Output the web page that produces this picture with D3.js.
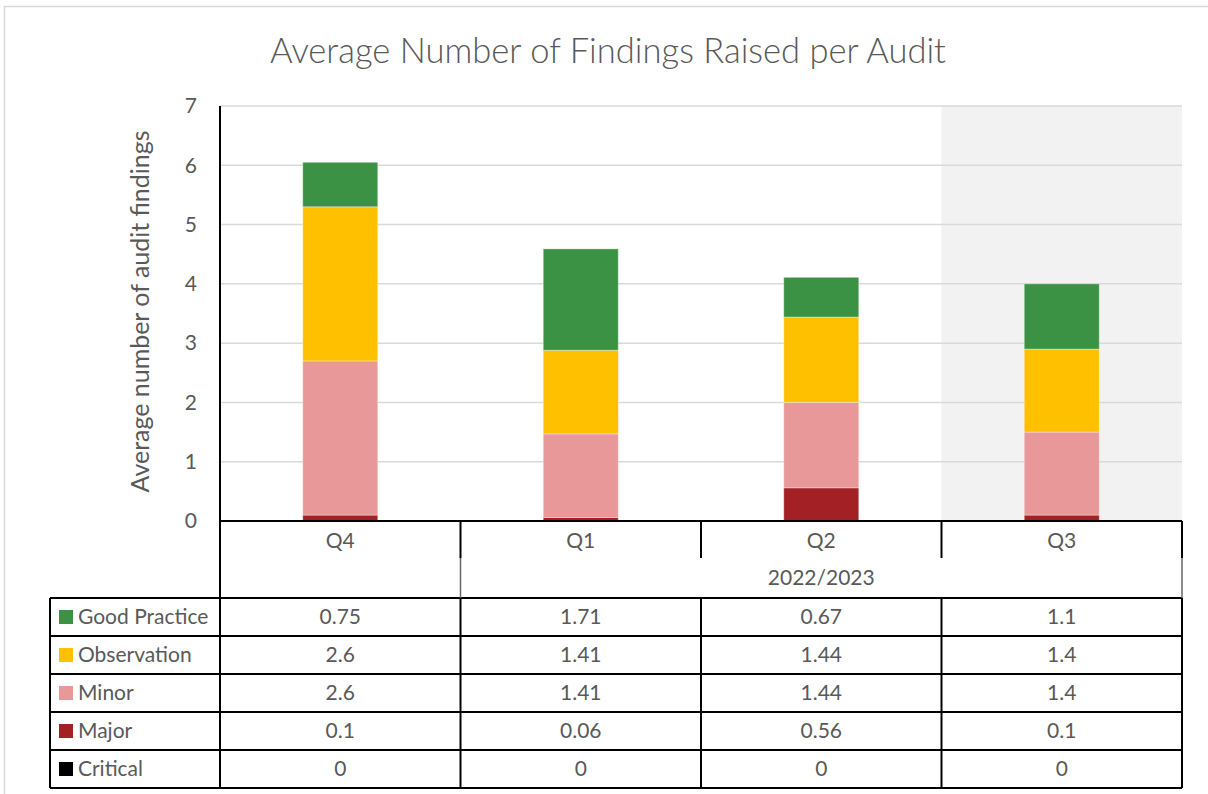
<!DOCTYPE html>
<html>
<head>
<meta charset="utf-8">
<script src="https://cdn.jsdelivr.net/npm/d3@7"></script>
<style>
  html, body { margin: 0; padding: 0; background: #fff; }
  svg { display: block; }
  text { font-family: "Lato", "Open Sans", sans-serif; fill: #595959; }
</style>
</head>
<body>
<svg id="chart" width="1208" height="794"></svg>
<script>
// ---- data ----
const quarters = ["Q4", "Q1", "Q2", "Q3"];
const groupLabel = "2022/2023";
const seriesNames = ["Good Practice", "Observation", "Minor", "Major", "Critical"];
const goodPractice = [0.75, 1.71, 0.67, 1.1];
const observation = [2.6, 1.41, 1.44, 1.4];
const minor = [2.6, 1.41, 1.44, 1.4];
const major = [0.1, 0.06, 0.56, 0.1];
const critical = [0, 0, 0, 0];
const yTicks = [0, 1, 2, 3, 4, 5, 6, 7];
const highlighted = "Q3";
const title = "Average Number of Findings Raised per Audit";
const yTitle = "Average number of audit findings";

const colors = {
  "Good Practice": "#3b9244",
  "Observation": "#ffc000",
  "Minor": "#e89898",
  "Major": "#a32125",
  "Critical": "#000000"
};

const valuesBySeries = {
  "Good Practice": goodPractice,
  "Observation": observation,
  "Minor": minor,
  "Major": major,
  "Critical": critical
};

const rows = quarters.map((q, i) => {
  const r = { quarter: q };
  seriesNames.forEach(s => r[s] = valuesBySeries[s][i]);
  return r;
});

// ---- layout ----
const svg = d3.select("#chart");
const plotLeft = 220, plotRight = 1182, plotTop = 106, plotBottom = 521;
const tableLeft = 50;
const rowH = 38;
const tableTop = 598;
const fs = "21px";

const x = d3.scaleBand().domain(quarters).range([plotLeft, plotRight]).paddingInner(0).paddingOuter(0);
const y = d3.scaleLinear().domain([0, 7]).range([plotBottom, plotTop]);
const barW = 75;

// outer border
svg.append("rect")
  .attr("x", 4.5).attr("y", 6.5).attr("width", 1240).attr("height", 820)
  .attr("fill", "none").attr("stroke", "#d9d9d9").attr("stroke-width", 1.5);

// title
const titleText = svg.append("text")
  .attr("x", 608).attr("y", 63)
  .attr("text-anchor", "middle")
  .style("font-size", "34px")
  .style("font-weight", 300)
  .text(title);
(function fit() {
  const w = titleText.node().getComputedTextLength();
  titleText.style("font-size", (34 * 676 / w) + "px");
})();

// highlight band
svg.append("rect")
  .attr("x", x(highlighted)).attr("y", plotTop)
  .attr("width", x.bandwidth()).attr("height", plotBottom - plotTop)
  .attr("fill", "#f2f2f2");

// gridlines
svg.append("g").selectAll("line")
  .data(yTicks.filter(t => t > 0))
  .join("line")
  .attr("x1", plotLeft).attr("x2", plotRight)
  .attr("y1", d => y(d)).attr("y2", d => y(d))
  .attr("stroke", "#d9d9d9").attr("stroke-width", 1.5);

// y tick labels
svg.append("g").selectAll("text")
  .data(yTicks)
  .join("text")
  .attr("x", 197).attr("y", d => y(d))
  .attr("dy", "0.35em")
  .attr("text-anchor", "end")
  .style("font-size", fs)
  .text(d => d);

// y title
const yt = svg.append("text")
  .attr("transform", `translate(149, ${(plotTop + plotBottom) / 2 - 2}) rotate(-90)`)
  .attr("text-anchor", "middle")
  .style("font-size", "24px")
  .text(yTitle);
(function fitY() {
  const w = yt.node().getComputedTextLength();
  yt.style("font-size", (24 * 362 / w) + "px");
})();

// stacked bars
const stackKeys = ["Critical", "Major", "Minor", "Observation", "Good Practice"];
const stacked = d3.stack().keys(stackKeys)(rows);
svg.append("g").selectAll("g")
  .data(stacked)
  .join("g")
  .attr("fill", d => colors[d.key])
  .selectAll("rect")
  .data(d => d)
  .join("rect")
  .attr("x", d => x(d.data.quarter) + (x.bandwidth() - barW) / 2)
  .attr("y", d => y(d[1]))
  .attr("width", barW)
  .attr("height", d => y(d[0]) - y(d[1]))
  .attr("stroke", "rgba(255,255,255,0.35)")
  .attr("stroke-width", 1);

// ---- axis/table lines ----
const lines = svg.append("g").attr("stroke", "#000").attr("stroke-width", 2).attr("fill", "none");
lines.append("line").attr("x1", plotLeft).attr("x2", plotLeft).attr("y1", plotTop).attr("y2", tableTop + rowH * 5);
lines.append("line").attr("x1", plotLeft).attr("x2", plotRight).attr("y1", plotBottom).attr("y2", plotBottom);
quarters.slice(1).forEach(q => {
  lines.append("line").attr("x1", x(q)).attr("x2", x(q)).attr("y1", plotBottom).attr("y2", 558);
});
lines.append("line").attr("x1", plotRight).attr("x2", plotRight).attr("y1", plotBottom).attr("y2", 558);
svg.append("line").attr("x1", x("Q1")).attr("x2", x("Q1")).attr("y1", 558).attr("y2", tableTop)
  .attr("stroke", "#666").attr("stroke-width", 1.5);
svg.append("line").attr("x1", plotRight).attr("x2", plotRight).attr("y1", 558).attr("y2", tableTop)
  .attr("stroke", "#666").attr("stroke-width", 1.5);

d3.range(6).forEach(i => {
  lines.append("line").attr("x1", tableLeft).attr("x2", plotRight)
    .attr("y1", tableTop + i * rowH).attr("y2", tableTop + i * rowH);
});
[tableLeft, plotRight].forEach(xx => {
  lines.append("line").attr("x1", xx).attr("x2", xx).attr("y1", tableTop).attr("y2", tableTop + rowH * 5);
});
quarters.slice(1).forEach(q => {
  lines.append("line").attr("x1", x(q)).attr("x2", x(q)).attr("y1", tableTop).attr("y2", tableTop + rowH * 5);
});

// category labels
svg.append("g").selectAll("text")
  .data(quarters)
  .join("text")
  .attr("x", d => x(d) + x.bandwidth() / 2)
  .attr("y", 541)
  .attr("dy", "0.35em")
  .attr("text-anchor", "middle")
  .style("font-size", fs)
  .text(d => d);

// group label
svg.append("text")
  .attr("x", (x("Q1") + plotRight) / 2)
  .attr("y", 578)
  .attr("dy", "0.35em")
  .attr("text-anchor", "middle")
  .style("font-size", fs)
  .text(groupLabel);

// table rows
seriesNames.forEach((s, i) => {
  const cy = tableTop + i * rowH + rowH / 2;
  svg.append("rect")
    .attr("x", 59).attr("y", cy - 7).attr("width", 14).attr("height", 14)
    .attr("fill", colors[s]);
  svg.append("text")
    .attr("x", 78).attr("y", cy)
    .attr("dy", "0.35em")
    .style("font-size", fs)
    .text(s);
  svg.append("g").selectAll("text")
    .data(valuesBySeries[s])
    .join("text")
    .attr("x", (d, j) => x(quarters[j]) + x.bandwidth() / 2)
    .attr("y", cy)
    .attr("dy", "0.35em")
    .attr("text-anchor", "middle")
    .style("font-size", fs)
    .text(d => d);
});
</script>
</body>
</html>
